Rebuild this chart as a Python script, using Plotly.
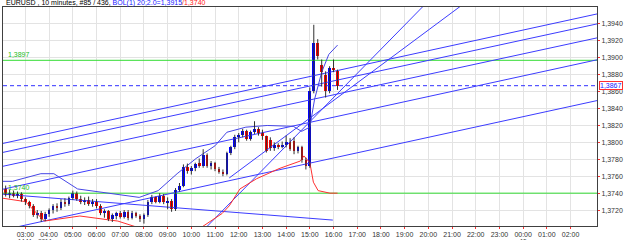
import plotly.graph_objects as go

# ---------------- data ----------------
# 10-minute candles, first bar at 02:10, last at 16:10 (85 bars)
bar_hours = [2 + (10 + 10 * k) / 60 for k in range(85)]
opens = [1.3745,1.3738,1.3740,1.3737,1.3739,1.3733,1.3729,1.3725,1.3714,1.3717,
         1.3710,1.3715,1.3720,1.3725,1.3722,1.3730,1.3727,1.3734,1.3740,1.3733,
         1.3729,1.3732,1.3727,1.3730,1.3725,1.3716,1.3719,1.3709,1.3714,1.3716,
         1.3712,1.3718,1.3711,1.3716,1.3713,1.3709,1.3714,1.3730,1.3735,1.3730,
         1.3737,1.3729,1.3731,1.3721,1.3744,1.3749,1.3771,1.3766,1.3770,1.3776,
         1.3772,1.3785,1.3772,1.3776,1.3768,1.3765,1.3763,1.3787,1.3794,1.3806,
         1.3809,1.3813,1.3804,1.3812,1.3816,1.3811,1.3807,1.3803,1.3793,1.3797,
         1.3795,1.3797,1.3800,1.3802,1.3790,1.3794,1.3779,1.3772,1.3861,1.3918,
         1.3892,1.3880,1.3861,1.3888,1.3884]
highs = [1.3749,1.3744,1.3743,1.3742,1.3741,1.3735,1.3731,1.3727,1.3720,1.3719,
         1.3718,1.3722,1.3727,1.3728,1.3733,1.3734,1.3736,1.3743,1.3742,1.3737,
         1.3735,1.3736,1.3733,1.3733,1.3727,1.3721,1.3720,1.3716,1.3718,1.3719,
         1.3720,1.3720,1.3719,1.3718,1.3715,1.3716,1.3732,1.3738,1.3736,1.3740,
         1.3739,1.3735,1.3733,1.3746,1.3752,1.3774,1.3775,1.3772,1.3776,1.3781,
         1.3792,1.3787,1.3778,1.3777,1.3771,1.3768,1.3789,1.3796,1.3809,1.3811,
         1.3816,1.3815,1.3814,1.3825,1.3818,1.3815,1.3808,1.3806,1.3800,1.3799,
         1.3801,1.3808,1.3805,1.3806,1.3796,1.3796,1.3782,1.3865,1.3939,1.3922,
         1.3898,1.3884,1.3890,1.3898,1.3886]
lows = [1.3736,1.3734,1.3735,1.3734,1.3730,1.3726,1.3722,1.3712,1.3710,1.3706,
        1.3707,1.3712,1.3716,1.3718,1.3720,1.3724,1.3725,1.3732,1.3731,1.3727,
        1.3726,1.3725,1.3724,1.3722,1.3714,1.3711,1.3707,1.3706,1.3709,1.3710,
        1.3710,1.3708,1.3709,1.3711,1.3706,1.3704,1.3712,1.3727,1.3728,1.3728,
        1.3727,1.3721,1.3718,1.3719,1.3742,1.3747,1.3763,1.3762,1.3766,1.3770,
        1.3770,1.3770,1.3768,1.3766,1.3763,1.3760,1.3761,1.3785,1.3792,1.3800,
        1.3806,1.3802,1.3802,1.3810,1.3808,1.3803,1.3788,1.3790,1.3790,1.3792,
        1.3793,1.3794,1.3790,1.3786,1.3787,1.3776,1.3768,1.3770,1.3858,1.3898,
        1.3866,1.3853,1.3858,1.3883,1.3862]
closes = [1.3738,1.3740,1.3737,1.3739,1.3733,1.3729,1.3725,1.3714,1.3717,1.3710,
          1.3715,1.3720,1.3725,1.3722,1.3730,1.3727,1.3734,1.3740,1.3733,1.3729,
          1.3732,1.3727,1.3730,1.3725,1.3716,1.3719,1.3709,1.3714,1.3716,1.3712,
          1.3718,1.3711,1.3716,1.3713,1.3709,1.3714,1.3730,1.3735,1.3730,1.3737,
          1.3729,1.3731,1.3721,1.3744,1.3749,1.3771,1.3766,1.3770,1.3774,1.3772,
          1.3785,1.3772,1.3776,1.3768,1.3765,1.3763,1.3787,1.3794,1.3806,1.3809,
          1.3813,1.3804,1.3812,1.3816,1.3811,1.3807,1.3790,1.3793,1.3797,1.3795,
          1.3797,1.3800,1.3792,1.3790,1.3794,1.3779,1.3772,1.3861,1.3918,1.3902,
          1.3883,1.3861,1.3888,1.3885,1.3867]

# Bollinger bands (hour, price)
bb_up_h = [2.05, 2.45, 3.65, 4.20, 5.20, 6.20, 7.80, 8.60, 9.40, 10.20, 11.00, 11.50,
           12.30, 13.20, 14.30, 14.65, 15.00, 15.20, 15.50, 15.80, 16.17]
bb_up_p = [1.3754, 1.3754, 1.3763, 1.3763, 1.3745, 1.3741, 1.3735, 1.3743, 1.3763, 1.3781,
           1.3796, 1.3812, 1.3818, 1.3820, 1.3819, 1.3813, 1.3818, 1.3851, 1.3883, 1.3904, 1.3915]
bb_lo_h = [2.05, 3.00, 3.80, 5.30, 6.90, 8.80, 9.80, 10.80, 11.30, 11.60, 12.05, 12.75,
           13.70, 14.60, 14.75, 15.00, 15.15, 15.35, 15.85, 16.17]
bb_lo_p = [1.3734, 1.3730, 1.3707, 1.3713, 1.3707, 1.3690, 1.3688, 1.3707, 1.3716, 1.3725,
           1.3745, 1.3757, 1.3769, 1.3778, 1.3784, 1.3776, 1.3753, 1.3743, 1.3740, 1.3740]

# trend lines: (hour0, price0, hour1, price1)
trend_lines = [
    (2.054, 1.37988, 27.116, 1.39518),
    (2.054, 1.37882, 27.116, 1.39400),
    (2.054, 1.37718, 27.116, 1.39235),
    (2.054, 1.37447, 27.116, 1.38976),
    (2.054, 1.36965, 27.116, 1.38494),
    (10.380, 1.36926, 20.052, 1.39686),
    (11.60, 1.37580, 21.733, 1.39688),
    (2.054, 1.37388, 15.97, 1.37082),
]
green_levels = [1.3897, 1.3740]
green_texts = ["1,3897", "1,3740"]
last_price = 1.3867
last_text = "1,3867"

y_ticks = [1.3720, 1.3740, 1.3760, 1.3780, 1.3800, 1.3820, 1.3840, 1.3860, 1.3880, 1.3900, 1.3920, 1.3940]
y_ticktext = ["1,3720", "1,3740", "1,3760", "1,3780", "1,3800", "1,3820", "1,3840", "1,3860",
              "1,3880", "1,3900", "1,3920", "1,3940"]
x_ticks = list(range(3, 27))
x_ticktext = ["03:00", "04:00", "05:00", "06:00", "07:00", "08:00", "09:00", "10:00", "11:00",
              "12:00", "13:00", "14:00", "15:00", "16:00", "17:00", "18:00", "19:00", "20:00",
              "21:00", "22:00", "23:00", "00:00", "01:00", "02:00"]
date_labels = [(2.6, "14 Mar 2014"), (24.0, "15")]

X_RANGE = [2.054, 27.116]
Y_RANGE = [1.37012, 1.39600]
BLUE = "#3c3cff"
GREEN = "#33dd33"
FONT = "Liberation Sans"

fig = go.Figure()

# horizontal levels
for lv in green_levels:
    fig.add_trace(go.Scatter(x=X_RANGE, y=[lv, lv], mode="lines",
                             line=dict(color=GREEN, width=1), hoverinfo="skip"))
fig.add_trace(go.Scatter(x=X_RANGE, y=[last_price, last_price], mode="lines",
                         line=dict(color="#3030ff", width=1, dash="4px,3px"), hoverinfo="skip"))

# trend lines
for (h0, p0, h1, p1) in trend_lines:
    fig.add_trace(go.Scatter(x=[h0, h1], y=[p0, p1], mode="lines",
                             line=dict(color=BLUE, width=1), hoverinfo="skip"))

# bollinger bands
fig.add_trace(go.Scatter(x=bb_up_h, y=bb_up_p, mode="lines",
                         line=dict(color="#4646e6", width=1), hoverinfo="skip"))
fig.add_trace(go.Scatter(x=bb_lo_h, y=bb_lo_p, mode="lines",
                         line=dict(color="#ff3030", width=1), hoverinfo="skip"))

# wicks
wx, wy = [], []
for h, hi, lo in zip(bar_hours, highs, lows):
    wx += [h, h, None]
    wy += [lo, hi, None]
fig.add_trace(go.Scatter(x=wx, y=wy, mode="lines", line=dict(color="#303030", width=1),
                         hoverinfo="skip"))
# bodies
bases = [min(o, c) for o, c in zip(opens, closes)]
sizes = [max(abs(c - o), 0.00008) for o, c in zip(opens, closes)]
colors = ["#0000ff" if c >= o else "#ff0000" for o, c in zip(opens, closes)]
fig.add_trace(go.Bar(x=bar_hours, y=sizes, base=bases, width=0.115,
                     marker=dict(color=colors, line=dict(width=0)), hoverinfo="skip"))

# labels for green lines
for lv, t in zip(green_levels, green_texts):
    fig.add_annotation(x=X_RANGE[0], y=lv, xref="x", yref="y", text=t, showarrow=False,
                       xanchor="left", yanchor="bottom", xshift=3, yshift=0,
                       font=dict(family=FONT, size=7, color="#22bb22"))

# last price box
fig.add_annotation(x=1, xref="paper", y=last_price, yref="y", text=last_text, showarrow=False,
                   xanchor="left", yanchor="middle", xshift=2,
                   font=dict(family=FONT, size=7, color="#2020ff"),
                   bgcolor="white", bordercolor="#ff3030", borderwidth=1, borderpad=0)

# title
fig.add_annotation(x=0, xref="paper", y=1, yref="paper", yanchor="bottom", xanchor="left",
                   showarrow=False, xshift=1, yshift=-2,
                   text="EURUSD , 10 minutes, #85 / 436, <span style='color:#2020ff'>BOL(1) 20;2.0=1,3915</span>"
                        "<span style='color:#ff2020'>/1,3740</span>",
                   font=dict(family=FONT, size=7, color="#000000"))
# date labels (second row under the time axis)
for h, t in date_labels:
    fig.add_annotation(x=h, xref="x", y=0, yref="paper", yanchor="top", showarrow=False,
                       xanchor="left" if h < 3 else "center",
                       text=t, yshift=-10, font=dict(family=FONT, size=6, color="#333333"))

fig.update_layout(
    width=625, height=240,
    margin=dict(l=2, r=27, t=7, b=13),
    paper_bgcolor="white", plot_bgcolor="white",
    showlegend=False, bargap=0,
    xaxis=dict(range=X_RANGE, tickvals=x_ticks, ticktext=x_ticktext, showgrid=True,
               gridcolor="#e3e3e3", gridwidth=1, zeroline=False,
               showline=True, linecolor="#404040", linewidth=1, mirror=True,
               ticks="outside", ticklen=2, tickcolor="#ff3030",
               tickfont=dict(family=FONT, size=7, color="#333333")),
    yaxis=dict(range=Y_RANGE, side="right", tickvals=y_ticks, ticktext=y_ticktext,
               showgrid=True, gridcolor="#e3e3e3", gridwidth=1, zeroline=False,
               showline=True, linecolor="#404040", linewidth=1, mirror=True,
               ticks="outside", ticklen=2, tickcolor="#ff3030",
               tickfont=dict(family=FONT, size=7, color="#333333")),
)

fig.write_html("out.html")
